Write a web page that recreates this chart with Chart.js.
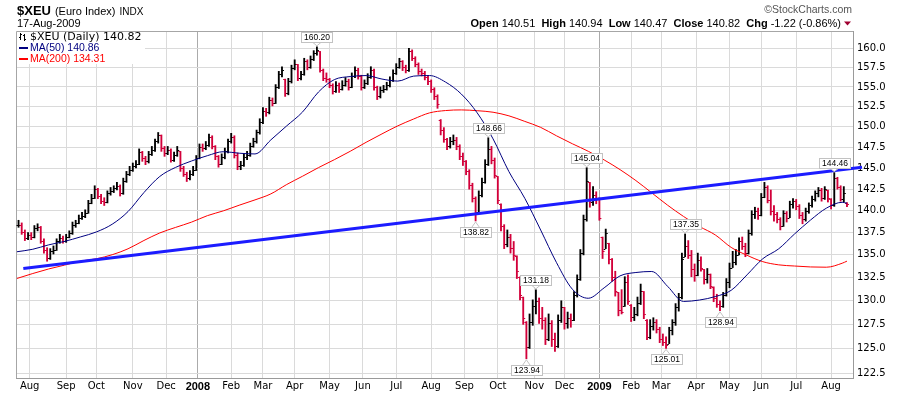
<!DOCTYPE html>
<html>
<head>
<meta charset="utf-8">
<title>$XEU (Euro Index)</title>
<script src="https://cdn.jsdelivr.net/npm/chart.js@4.4.1/dist/chart.umd.min.js"></script>
<style>
    html, body { margin: 0; padding: 0; background: #fff; }
    #wrap { position: relative; width: 900px; height: 396px; }
</style>
</head>
<body>
<div id="wrap"><canvas id="xeuChart" width="900" height="396"></canvas></div>
<script>

/* Data: one bar every second trading day, last bar = 17-Aug-2009 */

const hi = [
    138.9,138.6,137.8,137.5,137.5,138.3,138.5,138.2,136.8,135.8,
    135.7,136.0,136.8,137.3,137.1,137.3,137.7,138.7,138.9,139.5,
    139.8,140.1,141.2,141.9,142.9,142.6,141.9,141.5,142.3,142.7,
    142.9,143.3,143.0,143.8,144.6,145.2,145.6,145.9,147.3,147.0,
    146.4,147.0,147.6,148.5,149.3,149.0,147.6,147.6,147.3,146.9,
    147.6,147.0,145.2,144.5,144.7,145.2,146.5,147.9,147.9,148.2,
    149.1,148.9,147.7,146.5,146.7,147.4,148.5,149.2,148.9,146.8,
    145.8,146.7,147.0,148.0,148.6,149.6,151.0,152.4,152.3,153.7,
    153.6,155.3,157.0,157.6,156.0,156.1,157.8,158.5,157.9,157.0,
    158.7,158.5,159.0,159.7,160.2,159.6,157.3,156.8,156.1,155.4,
    155.7,155.5,155.8,156.2,156.0,156.8,157.6,157.4,156.5,155.9,
    156.7,157.6,157.3,155.1,155.0,155.2,155.6,156.3,157.2,158.0,
    158.7,158.4,157.8,160.0,159.8,158.9,158.1,157.3,157.0,156.5,
    155.9,154.9,154.0,150.9,149.9,148.6,148.7,149.0,148.7,147.8,
    146.8,145.9,144.8,143.2,141.6,142.3,143.8,146.0,148.66,147.6,
    146.2,144.0,140.8,138.4,137.8,137.3,136.5,134.9,132.6,130.4,
    127.8,128.6,130.1,131.18,130.3,129.3,128.2,128.6,127.9,126.6,
    128.5,130.0,129.3,128.8,128.6,131.0,132.8,135.6,139.5,145.04,
    143.3,142.8,142.2,141.5,137.0,137.9,136.3,134.6,133.2,130.9,
    131.2,132.6,132.8,129.6,129.3,130.4,131.8,131.0,128.0,128.0,
    128.2,128.0,127.2,126.5,126.2,127.2,128.0,129.7,130.8,135.2,
    137.35,136.6,135.5,134.0,135.2,134.8,133.4,133.5,132.9,131.5,
    130.7,130.0,130.9,132.4,134.1,135.4,135.6,136.9,137.0,136.3,
    137.8,140.0,140.4,140.3,142.0,143.3,142.9,142.4,140.6,139.8,
    139.2,140.0,139.9,141.1,141.4,141.3,140.7,139.8,140.3,140.9,
    141.7,142.3,142.7,142.6,142.8,142.4,141.4,144.46,143.9,142.9,
    142.8,140.94
];

const lo = [
    138.1,137.3,136.6,136.7,136.7,136.9,137.7,136.3,135.2,134.3,
    134.5,135.1,135.5,136.3,136.3,136.4,136.9,137.3,138.1,138.5,
    139.0,139.2,139.7,140.8,141.4,141.4,140.8,140.6,140.9,141.8,
    142.1,142.4,141.7,141.9,143.3,144.1,144.6,145.0,145.4,145.8,
    145.4,145.6,146.5,147.0,148.0,147.0,146.4,146.6,145.7,145.8,
    146.4,144.6,144.0,143.4,143.6,144.1,144.7,146.1,147.0,147.2,
    147.6,147.3,146.0,145.1,145.4,146.1,146.8,148.0,146.2,144.8,
    144.8,145.2,146.0,146.4,147.5,148.0,149.1,150.4,151.3,151.6,
    152.6,152.9,154.8,156.3,153.8,154.0,155.5,157.2,155.8,155.9,
    156.5,157.2,157.4,158.4,159.1,156.9,155.8,155.6,154.9,154.1,
    154.3,154.3,154.6,155.1,154.6,154.9,156.2,156.0,154.6,154.8,
    155.3,156.1,154.6,153.4,153.6,154.3,154.6,155.0,155.7,156.6,
    157.4,157.1,156.8,157.0,158.4,157.6,156.6,156.4,155.9,155.3,
    154.3,153.4,152.3,149.0,148.1,147.2,147.4,147.8,147.2,146.0,
    145.3,144.2,142.5,141.0,138.82,139.7,141.6,143.2,145.3,145.5,
    143.8,140.8,137.7,135.7,135.9,135.2,134.4,132.4,130.1,127.5,
    123.94,125.0,127.4,128.6,127.6,127.0,125.4,125.8,125.2,124.7,
    125.1,127.7,127.0,127.1,127.2,127.9,130.4,132.2,135.0,138.8,
    140.4,140.6,140.8,138.9,134.6,135.7,134.0,132.1,130.5,128.4,
    128.6,129.4,129.6,127.8,127.9,128.4,129.6,128.1,125.9,126.0,
    126.9,126.6,125.6,125.3,125.01,125.5,126.4,127.4,128.9,130.2,
    134.8,134.6,132.6,132.1,132.7,133.2,131.8,131.9,131.3,129.9,
    129.3,128.94,129.3,130.5,131.4,133.6,133.9,135.0,135.6,134.8,
    135.1,137.2,139.1,139.0,139.4,141.5,140.9,139.5,138.8,138.6,
    137.8,138.2,138.7,139.2,140.3,140.1,139.1,138.5,138.8,139.7,
    140.4,141.1,141.6,141.1,141.3,141.0,140.2,140.5,142.5,141.1,
    141.0,140.47
];

const cl = [
    138.4,137.6,136.9,137.2,137.0,138.0,138.1,136.6,135.6,134.7,
    135.4,135.6,136.5,136.9,136.6,137.0,137.4,138.4,138.6,139.2,
    139.4,139.7,140.9,141.5,142.5,141.7,141.1,141.0,142.0,142.3,
    142.6,142.9,142.0,143.5,144.3,144.8,145.2,145.5,146.9,146.2,
    145.8,146.7,147.2,148.2,149.0,147.4,146.8,147.2,146.0,146.6,
    147.2,145.0,144.3,143.8,144.3,144.8,146.2,147.5,147.4,147.8,
    148.8,147.6,146.4,145.5,146.3,147.0,148.2,148.8,146.6,145.2,
    145.4,146.3,146.6,147.7,148.2,149.3,150.6,152.0,151.8,153.3,
    153.0,155.0,156.6,157.2,154.2,155.7,157.4,158.0,156.2,156.6,
    158.3,157.6,158.6,159.4,159.8,157.2,156.2,156.0,155.3,154.5,
    155.3,154.7,155.3,155.8,155.0,156.4,157.2,156.4,155.0,155.5,
    156.3,157.2,155.0,153.8,154.6,154.8,155.2,155.9,156.8,157.6,
    158.3,157.5,157.2,159.6,158.8,158.0,157.0,156.8,156.3,155.7,
    154.7,153.9,152.8,149.6,148.5,147.7,148.2,148.4,147.6,146.5,
    145.8,144.6,143.0,141.5,139.8,141.8,143.3,145.5,147.3,146.0,
    144.2,141.2,138.2,136.2,137.0,135.8,135.0,133.2,130.6,128.2,
    125.2,127.8,129.4,130.0,128.2,128.0,126.0,127.6,126.0,125.3,
    128.0,129.3,127.6,128.2,128.0,130.6,132.3,135.2,139.0,143.5,
    141.0,141.8,141.3,139.2,135.4,137.4,134.6,132.6,131.0,129.0,
    128.8,132.0,130.0,128.3,128.6,129.8,131.0,128.6,126.2,127.3,
    127.8,127.0,126.0,125.7,125.4,126.9,127.7,129.3,130.4,134.6,
    136.0,135.0,133.4,132.8,134.4,133.6,132.4,132.9,131.6,130.3,
    129.7,129.4,130.6,132.0,133.6,134.2,135.0,136.5,136.0,135.2,
    137.4,139.6,140.0,139.5,141.6,142.8,141.2,140.0,139.6,139.0,
    138.3,139.7,139.2,140.8,141.1,140.5,139.5,139.0,140.0,140.6,
    141.3,142.0,142.4,141.5,142.5,141.5,140.6,143.8,142.8,141.4,
    142.04,140.82
];

/* Moving averages, read every 10 trading days */
const maDays = [0,10,20,30,40,50,60,70,80,90,100,110,120,130,140,150,160,170,180,190,
    200,210,220,230,240,250,260,270,280,290,300,310,320,330,340,350,360,370,380,390,
    400,410,420,430,440,450,460,470,480,490,500,510,520,523];

const ma50 = [
    135.35,135.63,136.12,136.51,137.01,137.57,138.45,139.9,142.1,144.0,
    145.08,145.84,146.48,146.96,146.78,146.69,148.40,150.12,151.85,154.36,
    155.94,156.33,156.46,156.01,155.75,156.39,156.46,155.63,154.10,151.73,
    148.52,144.57,141.43,137.79,134.14,131.24,130.27,131.39,132.69,133.06,
    133.17,131.55,129.93,130.08,130.45,131.12,132.80,134.58,135.68,137.35,
    138.92,140.29,140.97,140.86
];

const ma200 = [
    132.41,132.95,133.45,133.87,134.31,134.57,135.02,135.68,136.61,137.46,
    138.09,138.69,139.43,139.98,140.63,141.25,141.95,143.05,144.03,145.05,
    146.00,147.01,148.10,149.13,150.12,150.97,151.73,152.02,152.10,152.00,
    151.81,151.36,150.67,149.93,148.89,147.92,147.01,145.97,144.81,143.51,
    142.07,140.63,139.34,138.20,137.24,135.84,134.96,134.25,133.90,133.77,
    133.67,133.64,134.08,134.31
];

/* Hand drawn trend line */
const trendDays = [4.0, 532.5];
const trendVals = [133.5, 145.1];

/* Annotated highs and lows */
const markedHighs = [160.20, 148.66, 145.04, 131.18, 137.35, 144.46];
const markedLows = [138.82, 123.94, 125.01, 128.94];

const yTicks = [122.5,125,127.5,130,132.5,135,137.5,140,142.5,145,147.5,150,152.5,155,157.5,160];
const monthNames = ["Jan","Feb","Mar","Apr","May","Jun","Jul","Aug","Sep","Oct","Nov","Dec"];

const holidays = [
    "2007-09-03","2007-11-22","2007-12-25",
    "2008-01-01","2008-01-21","2008-02-18","2008-03-21","2008-05-26","2008-07-04",
    "2008-09-01","2008-11-27","2008-12-25",
    "2009-01-01","2009-01-19","2009-02-16","2009-04-10","2009-05-25","2009-07-03"
];

const quote = { open: "140.51", high: "140.94", low: "140.47", close: "140.82", chg: "-1.22 (-0.86%)" };

/* Trading calendar -> month ticks */

const days = [];
for (let t = Date.UTC(2007, 6, 20); t <= Date.UTC(2009, 7, 17); t += 864e5) {
    const d = new Date(t);
    const wd = d.getUTCDay();
    if (wd === 0 || wd === 6 || holidays.includes(d.toISOString().slice(0, 10))) continue;
    days.push(d);
}

const monthTicks = [];
const tickText = {};
const yearTicks = new Set();
days.forEach((d, i) => {
    if (i === 0 || d.getUTCMonth() === days[i - 1].getUTCMonth()) return;
    monthTicks.push(i);
    if (d.getUTCMonth() === 0) {
        tickText[i] = String(d.getUTCFullYear());
        yearTicks.add(i);
    } else {
        tickText[i] = monthNames[d.getUTCMonth()];
    }
});

const lastDay = days.length - 1;
const barDays = cl.map((c, j) => lastDay - (cl.length - 1 - j) * 2);
const barColor = cl.map((c, j) => (j > 0 && c < cl[j - 1]) ? "#d2003a" : "#000000");

/* Open / close ticks on the high-low bars */

const ohlcTicks = {
    id: "ohlcTicks",
    afterDatasetDraw(chart, args) {
        if (args.index !== 3) return;
        const { ctx, chartArea, scales: { x, y } } = chart;
        ctx.save();
        ctx.beginPath();
        ctx.rect(chartArea.left, chartArea.top, chartArea.width, chartArea.height);
        ctx.clip();
        cl.forEach((c, j) => {
            const px = x.getPixelForValue(barDays[j]);
            let open = j > 0 ? cl[j - 1] : c;
            open = Math.min(hi[j], Math.max(lo[j], open));
            ctx.fillStyle = barColor[j];
            ctx.fillRect(px - 2, Math.round(y.getPixelForValue(open)), 1.6, 1);
            ctx.fillRect(px + 0.4, Math.round(y.getPixelForValue(c)), 1.6, 1);
        });
        ctx.restore();
    }
};

/* Frame, legend box, value call-outs and header */

const frame = {
    id: "frame",
    beforeDatasetsDraw(chart) {
        const { ctx, chartArea: a } = chart;
        ctx.save();
        ctx.strokeStyle = "#a6a6a6";
        ctx.lineWidth = 1;
        ctx.beginPath();
        ctx.moveTo(a.left + 0.5, a.bottom);
        ctx.lineTo(a.left + 0.5, a.top + 0.5);
        ctx.lineTo(a.right, a.top + 0.5);
        ctx.stroke();
        ctx.restore();
    }
};

const callouts = {
    id: "callouts",
    afterDatasetsDraw(chart) {
        const { ctx, scales: { x, y } } = chart;
        ctx.save();
        ctx.font = "8.5px 'Liberation Sans'";
        ctx.textAlign = "center";
        ctx.textBaseline = "middle";
        ctx.lineWidth = 1;

        const box = (px, py, txt, above) => {
            const w = Math.round(ctx.measureText(txt).width) + 5;
            const h = 10;
            const bx = Math.round(px - w / 2) + 0.5;
            const by = above ? Math.round(py) - 5 - h + 0.5 : Math.round(py) + 6 + 0.5;
            const edge = above ? by + h : by;
            const tip = above ? py - 1 : py + 1;
            ctx.strokeStyle = "#c2c2c2";
            ctx.fillStyle = "#ffffff";
            ctx.beginPath();
            ctx.moveTo(px - 4, edge);
            ctx.lineTo(px, tip);
            ctx.lineTo(px + 4, edge);
            ctx.fill();
            ctx.stroke();
            ctx.fillRect(bx, by, w, h);
            ctx.strokeRect(bx, by, w, h);
            ctx.fillStyle = "#000";
            ctx.fillText(txt, bx + w / 2, by + h / 2 + 0.5);
        };

        markedHighs.forEach(v => {
            const j = hi.indexOf(v);
            if (j >= 0) box(x.getPixelForValue(barDays[j]), y.getPixelForValue(v), v.toFixed(2), true);
        });
        markedLows.forEach(v => {
            const j = lo.indexOf(v);
            if (j >= 0) box(x.getPixelForValue(barDays[j]), y.getPixelForValue(v), v.toFixed(2), false);
        });
        ctx.restore();
    }
};

const stockLegend = {
    id: "stockLegend",
    afterDatasetsDraw(chart) {
        const ctx = chart.ctx;
        ctx.save();
        ctx.fillStyle = "#fff";
        ctx.fillRect(17, 32, 128, 32);
        ctx.textBaseline = "middle";

        // little bar icon
        ctx.fillStyle = "#000";
        ctx.fillRect(20, 33, 1, 7);
        ctx.fillRect(19, 37, 1, 1);
        ctx.fillRect(21, 34, 1, 1);
        ctx.fillRect(24, 34, 1, 7);
        ctx.fillRect(23, 35, 1, 1);
        ctx.fillRect(25, 39, 1, 1);

        ctx.font = "11px 'DejaVu Sans'";
        ctx.fillText("$XEU (Daily) " + cl[cl.length - 1].toFixed(2), 30, 37);

        ctx.font = "10.5px 'Liberation Sans'";
        ctx.fillStyle = "#000080";
        ctx.fillRect(19, 47, 9, 2);
        ctx.fillText("MA(50) " + ma50[ma50.length - 1].toFixed(2), 30, 48);

        ctx.fillStyle = "#ff0000";
        ctx.fillRect(19, 58, 9, 2);
        ctx.fillText("MA(200) " + ma200[ma200.length - 1].toFixed(2), 30, 59);
        ctx.restore();
    }
};

const header = {
    id: "header",
    afterDraw(chart) {
        const ctx = chart.ctx;
        ctx.save();
        ctx.textBaseline = "alphabetic";
        ctx.fillStyle = "#000";

        ctx.font = "bold 13px 'Liberation Sans'";
        ctx.fillText("$XEU", 17, 15);
        let hx = Math.max(53, 17 + ctx.measureText("$XEU").width + 4);
        ctx.font = "11px 'Liberation Sans'";
        ctx.fillText("(Euro Index)", hx, 15);
        hx += ctx.measureText("(Euro Index)").width + 4;
        ctx.font = "10px 'Liberation Sans'";
        ctx.fillText("INDX", hx, 15);
        ctx.font = "11px 'Liberation Sans'";
        ctx.fillText("17-Aug-2009", 17, 27);

        ctx.fillStyle = "#555";
        ctx.textAlign = "right";
        ctx.font = "10.5px 'Liberation Sans'";
        ctx.fillText("\u00a9StockCharts.com", 852, 13);

        const parts = [
            ["Open", true], [" " + quote.open + "  ", false],
            ["High", true], [" " + quote.high + "  ", false],
            ["Low", true], [" " + quote.low + "  ", false],
            ["Close", true], [" " + quote.close + "  ", false],
            ["Chg", true], [" " + quote.chg, false]
        ];
        ctx.textAlign = "left";
        let total = 0;
        parts.forEach(p => {
            ctx.font = (p[1] ? "bold " : "") + "11px 'Liberation Sans'";
            total += ctx.measureText(p[0]).width;
        });
        let px = 841 - total;
        ctx.fillStyle = "#000";
        parts.forEach(p => {
            ctx.font = (p[1] ? "bold " : "") + "11px 'Liberation Sans'";
            ctx.fillText(p[0], px, 27);
            px += ctx.measureText(p[0]).width;
        });

        ctx.fillStyle = "#a00030";
        ctx.beginPath();
        ctx.moveTo(844, 21.5);
        ctx.lineTo(851, 21.5);
        ctx.lineTo(847.5, 25.5);
        ctx.closePath();
        ctx.fill();
        ctx.restore();
    }
};

/* Chart */

document.addEventListener("DOMContentLoaded", () => {

    Chart.defaults.font.family = "'DejaVu Sans'";
    Chart.defaults.color = "#000";

    const xeuChart = document.getElementById("xeuChart");

    new Chart(xeuChart, {
        type: "line",
        data: {
            datasets: [
                {
                    label: "Trend",
                    data: trendDays.map((d, i) => ({ x: d, y: trendVals[i] })),
                    borderColor: "#1c1cff",
                    borderWidth: 3,
                    pointRadius: 0,
                    clip: false,
                    order: 0
                },
                {
                    label: "MA(50)",
                    data: maDays.map((d, i) => ({ x: d, y: ma50[i] })),
                    borderColor: "#000080",
                    borderWidth: 1,
                    pointRadius: 0,
                    cubicInterpolationMode: "monotone",
                    order: 1
                },
                {
                    label: "MA(200)",
                    data: maDays.map((d, i) => ({ x: d, y: ma200[i] })),
                    borderColor: "#ff0000",
                    borderWidth: 1,
                    pointRadius: 0,
                    cubicInterpolationMode: "monotone",
                    order: 2
                },
                {
                    type: "bar",
                    label: "$XEU",
                    data: barDays.map((d, j) => ({ x: d, y: [lo[j], hi[j]] })),
                    backgroundColor: barColor,
                    borderWidth: 0,
                    barThickness: 1.2,
                    order: 3
                }
            ]
        },
        options: {
            responsive: false,
            devicePixelRatio: 1,
            animation: false,
            events: [],
            layout: { padding: { left: 16, top: 31, right: 0, bottom: 0 } },
            plugins: {
                legend: { display: false },
                tooltip: { enabled: false }
            },
            scales: {
                x: {
                    type: "linear",
                    min: -0.6,
                    max: 526.8,
                    offset: false,
                    afterBuildTicks: s => { s.ticks = monthTicks.map(v => ({ value: v })); },
                    afterFit: s => { s.height = 18; },
                    grid: {
                        offset: false,
                        drawTicks: false,
                        color: c => (c.tick && yearTicks.has(c.tick.value)) ? "#ababab" : "#dadada"
                    },
                    border: { display: true, color: "#9a9a9a" },
                    ticks: {
                        autoSkip: false,
                        maxRotation: 0,
                        padding: 2,
                        color: "#000",
                        callback: v => tickText[v] || "",
                        font: c => (c.tick && yearTicks.has(c.tick.value))
                            ? { family: "'Liberation Sans'", size: 11, weight: "bold" }
                            : { family: "'DejaVu Sans'", size: 10 }
                    }
                },
                y: {
                    type: "logarithmic",
                    position: "right",
                    min: 122.0,
                    max: 162.3,
                    afterBuildTicks: s => { s.ticks = yTicks.map(v => ({ value: v })); },
                    afterFit: s => { s.width = 47; },
                    grid: { drawTicks: false, color: "#dadada" },
                    border: { display: true, color: "#9a9a9a" },
                    ticks: {
                        padding: 4,
                        color: "#000",
                        font: { family: "'DejaVu Sans'", size: 10 },
                        callback: v => Number(v).toFixed(1)
                    }
                }
            }
        },
        plugins: [frame, ohlcTicks, callouts, stockLegend, header]
    });

});
</script>
</body>
</html>
